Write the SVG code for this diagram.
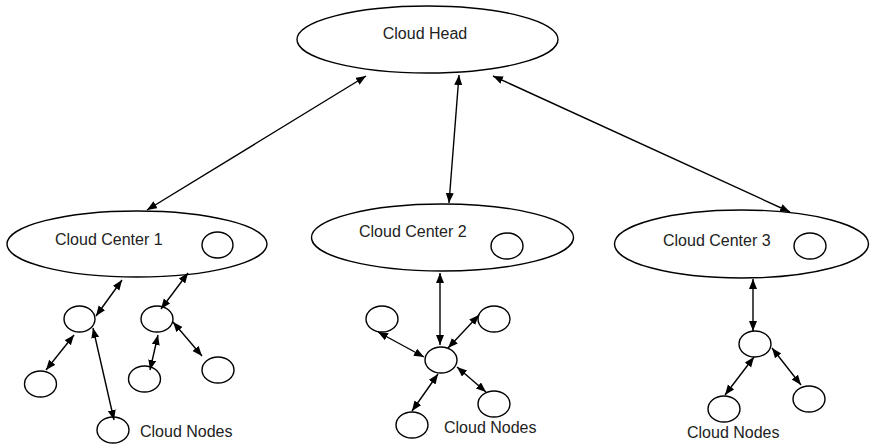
<svg xmlns="http://www.w3.org/2000/svg" width="874" height="447" viewBox="0 0 874 447">
  <style>
    .shape { fill: #fff; stroke: #000; stroke-width: 1.4; }
    .lbl { font-family: "Liberation Sans", Arial, sans-serif; font-size: 16px; fill: #222; }
    .link { stroke: #000; stroke-width: 1.4; fill: none; marker-start: url(#tip); marker-end: url(#tip); }
  </style>
  <defs>
    <marker id="tip" markerUnits="userSpaceOnUse" markerWidth="11" markerHeight="9" refX="10" refY="4" orient="auto-start-reverse">
      <path d="M0,0 L10,4 L0,8 z" fill="#000"/>
    </marker>
  </defs>
  <rect width="874" height="447" fill="#fff"/>

  <!-- head -->
  <g id="cloud-head">
    <ellipse class="shape" cx="427.5" cy="39.5" rx="130.5" ry="33.5"/>
    <text class="lbl" x="425" y="39" text-anchor="middle">Cloud Head</text>
  </g>

  <!-- centres -->
  <g id="cloud-center-1">
    <ellipse class="shape" cx="137" cy="244" rx="130" ry="33"/>
    <text class="lbl" x="55" y="245">Cloud Center 1</text>
    <ellipse class="shape" cx="217.5" cy="245" rx="15.5" ry="13"/>
  </g>
  <g id="cloud-center-2">
    <ellipse class="shape" cx="442.5" cy="237.5" rx="131" ry="33.5"/>
    <text class="lbl" x="359" y="237">Cloud Center 2</text>
    <ellipse class="shape" cx="507" cy="246" rx="16" ry="13"/>
  </g>
  <g id="cloud-center-3">
    <ellipse class="shape" cx="741.5" cy="244" rx="127" ry="34"/>
    <text class="lbl" x="663" y="246">Cloud Center 3</text>
    <ellipse class="shape" cx="810" cy="246" rx="16" ry="13"/>
  </g>

  <!-- nodes under centre 1 -->
  <g id="c1-node-a"><ellipse class="shape" cx="79.5" cy="319" rx="15.5" ry="13"/></g>
  <g id="c1-node-b"><ellipse class="shape" cx="157" cy="319" rx="16" ry="13"/></g>
  <g id="c1-node-c"><ellipse class="shape" cx="40.5" cy="384" rx="16" ry="13"/></g>
  <g id="c1-node-d"><ellipse class="shape" cx="144.5" cy="379" rx="16" ry="13"/></g>
  <g id="c1-node-e"><ellipse class="shape" cx="218" cy="370" rx="16" ry="13"/></g>
  <g id="c1-node-f">
    <ellipse class="shape" cx="113" cy="430" rx="16" ry="13"/>
    <text class="lbl" x="140" y="437">Cloud Nodes</text>
  </g>

  <!-- nodes under centre 2 -->
  <g id="c2-node-hub"><ellipse class="shape" cx="441" cy="360" rx="16" ry="13"/></g>
  <g id="c2-node-ul"><ellipse class="shape" cx="382" cy="319" rx="16" ry="13"/></g>
  <g id="c2-node-ur"><ellipse class="shape" cx="494" cy="319" rx="16" ry="13"/></g>
  <g id="c2-node-ll"><ellipse class="shape" cx="412" cy="425" rx="16" ry="13"/></g>
  <g id="c2-node-lr">
    <ellipse class="shape" cx="494" cy="404" rx="16" ry="13"/>
    <text class="lbl" x="444" y="433">Cloud Nodes</text>
  </g>

  <!-- nodes under centre 3 -->
  <g id="c3-node-hub"><ellipse class="shape" cx="755" cy="344" rx="16" ry="13"/></g>
  <g id="c3-node-ll">
    <ellipse class="shape" cx="724" cy="409" rx="16" ry="13"/>
    <text class="lbl" x="687" y="438">Cloud Nodes</text>
  </g>
  <g id="c3-node-lr"><ellipse class="shape" cx="809" cy="399" rx="16" ry="13"/></g>

  <!-- two-way links -->
  <g id="connectors">
    <line class="link" x1="366" y1="76" x2="147" y2="210"/>
    <line class="link" x1="459" y1="75" x2="449" y2="203"/>
    <line class="link" x1="493" y1="76" x2="790" y2="212"/>

    <line class="link" x1="122" y1="280" x2="96" y2="316"/>
    <line class="link" x1="188" y1="273" x2="161" y2="309"/>
    <line class="link" x1="74" y1="335" x2="46" y2="370"/>
    <line class="link" x1="93" y1="328" x2="114" y2="420"/>
    <line class="link" x1="158" y1="335" x2="150" y2="370"/>
    <line class="link" x1="173" y1="322" x2="202" y2="356"/>

    <line class="link" x1="440" y1="273" x2="440" y2="345"/>
    <line class="link" x1="378" y1="332" x2="424" y2="357"/>
    <line class="link" x1="479" y1="315" x2="448" y2="348"/>
    <line class="link" x1="438" y1="374" x2="412" y2="411"/>
    <line class="link" x1="457" y1="367" x2="486" y2="392"/>

    <line class="link" x1="753" y1="279" x2="753" y2="331"/>
    <line class="link" x1="754" y1="357" x2="725" y2="395"/>
    <line class="link" x1="772" y1="348" x2="801" y2="385"/>
  </g>
</svg>
